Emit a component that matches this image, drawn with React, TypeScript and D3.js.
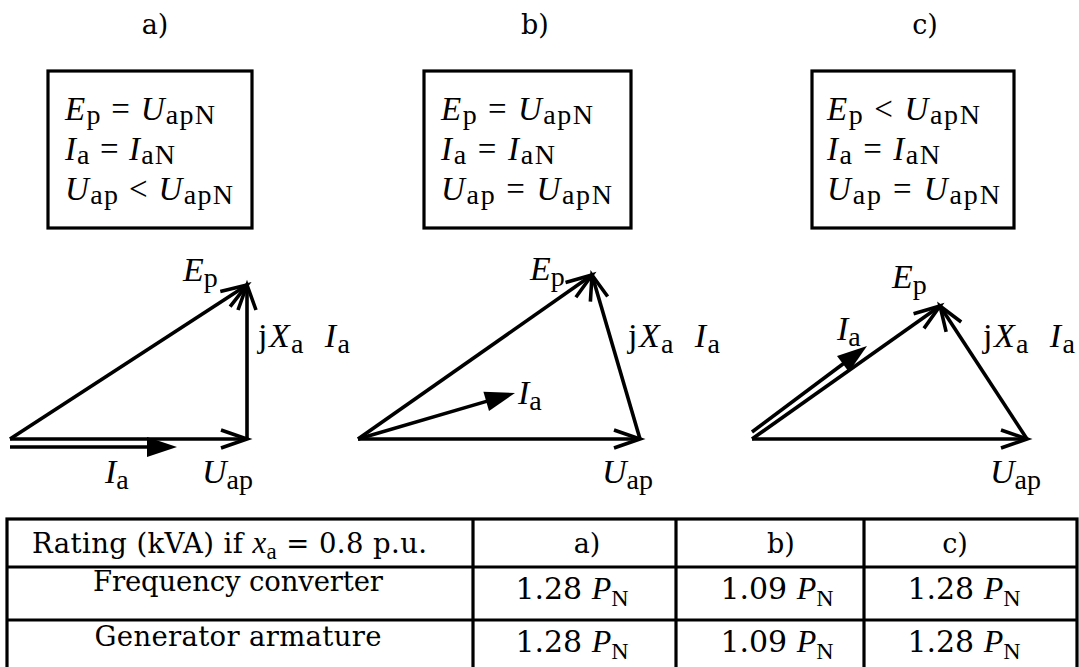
import React from 'react';
import * as d3 from 'd3';

// ---------------- data ----------------
const panelLabels = ['a)', 'b)', 'c)'];
const conditionsA = ['E_p = U_apN', 'I_a = I_aN', 'U_ap < U_apN'];
const conditionsB = ['E_p = U_apN', 'I_a = I_aN', 'U_ap = U_apN'];
const conditionsC = ['E_p < U_apN', 'I_a = I_aN', 'U_ap = U_apN'];

// phasor coordinates (diagram units, origin at tail of U_ap, y upwards)
const uApTip = [[237, 0], [282, 0], [275, 0]];
const ePTip = [[237, 154], [234, 164], [188, 133]];
const iATail = [[0, -8], [0, 0], [0, 7]];
const iATip = [[167, -8], [157, 46], [115, 93]];
const phasorLabels = ['E_p', 'jX_a  I_a', 'I_a', 'U_ap'];

const tableHeader = ['Rating (kVA) if x_a = 0.8 p.u.', 'a)', 'b)', 'c)'];
const rowLabels = ['Frequency converter', 'Generator armature'];
const ratingA = [1.28, 1.28];
const ratingB = [1.09, 1.09];
const ratingC = [1.28, 1.28];

// ---------------- layout ----------------
const W = 1079;
const H = 667;
const MATH = '"Liberation Serif", "Times New Roman", serif';
const TXT = '"DejaVu Serif", serif';
const SW = 3.6;

const headerX = [155, 535, 925];
const boxes = [
  { x0: 48, x1: 252 },
  { x0: 424, x1: 631 },
  { x0: 812, x1: 1014 },
];
const boxTop = 71;
const boxBottom = 228;
const condX = [65, 441, 827];
const condY = [120, 160, 200];
const condW = [[150, 110, 168], [152, 114, 171], [153, 113, 173]];
const origins = [[10, 439], [358, 439], [752, 439]];
// label anchor positions per panel: E_p, jXa Ia, Ia, Uap
const labelPos = [
  [[183, 281], [258, 347], [105, 483], [202, 483]],
  [[530, 280], [628, 347], [518, 404], [602, 483]],
  [[892, 288], [983, 347], [837, 340], [990, 483]],
];
const labelW = [null, 92, null, null];
const colEdges = [7, 473, 676, 864, 1077];
const rowEdges = [519, 567, 620, 674];

type Seg = { t: string; it?: boolean; sub?: boolean; font?: string; size?: number };

function parseMath(s: string): Seg[] {
  const segs: Seg[] = [];
  const tokens = s.split(' ');
  tokens.forEach((tok, k) => {
    if (k > 0) segs.push({ t: ' ' });
    if (tok === '') return;
    if (tok.includes('_')) {
      const [main, sub] = tok.split('_');
      let m = main;
      if (m.startsWith('j')) {
        segs.push({ t: 'j' });
        m = m.slice(1);
      }
      segs.push({ t: m, it: true });
      segs.push({ t: sub, sub: true });
    } else {
      segs.push({ t: tok });
    }
  });
  return segs;
}

function RichText({ x, y, segs, size, subSize, subDy, anchor = 'start', font = MATH, len }:
  { x: number; y: number; segs: Seg[]; size: number; subSize: number; subDy: number; anchor?: string; font?: string; len?: number | null }) {
  let cur = 0;
  return (
    <text x={x} y={y} fontFamily={font} fontSize={size} textAnchor={anchor} style={{ whiteSpace: 'pre' }} fill="#000"
      textLength={len || undefined} lengthAdjust={len ? 'spacing' : undefined}>
      {segs.map((s, i) => {
        const target = s.sub ? subDy : 0;
        const dy = target - cur;
        cur = target;
        return (
          <tspan key={i} dy={dy || undefined} fontSize={s.sub ? subSize : s.size}
            fontStyle={s.it ? 'italic' : undefined} fontFamily={s.font}>
            {s.t}
          </tspan>
        );
      })}
    </text>
  );
}

function Panel({ idx }: { idx: number }) {
  const [ox, oy] = origins[idx];
  const x = d3.scaleLinear().domain([0, 100]).range([ox, ox + 100]);
  const y = d3.scaleLinear().domain([0, 100]).range([oy, oy - 100]);
  const line = d3.line<number[]>().x((d) => d[0]).y((d) => d[1]);
  const P = (p: number[]) => [x(p[0]), y(p[1])];

  const openArrow = (from: number[], to: number[], L = 26, Wd = 9) => {
    const a = P(from), b = P(to);
    const dx = b[0] - a[0], dy = b[1] - a[1];
    const len = Math.hypot(dx, dy);
    const ux = dx / len, uy = dy / len;
    const px = -uy, py = ux;
    const base = [b[0] - ux * L, b[1] - uy * L];
    const head = [[base[0] + px * Wd, base[1] + py * Wd], b, [base[0] - px * Wd, base[1] - py * Wd]];
    return (
      <g>
        <path d={line([a, b]) || ''} stroke="#000" strokeWidth={SW} fill="none" />
        <path d={line(head) || ''} stroke="#000" strokeWidth={SW} fill="none" strokeLinejoin="miter" />
      </g>
    );
  };
  const filledArrow = (from: number[], to: number[], L = 30, Wd = 10) => {
    const a = P(from), b = P(to);
    const dx = b[0] - a[0], dy = b[1] - a[1];
    const len = Math.hypot(dx, dy);
    const ux = dx / len, uy = dy / len;
    const px = -uy, py = ux;
    const base = [b[0] - ux * L, b[1] - uy * L];
    const tri = [[base[0] + px * Wd, base[1] + py * Wd], b, [base[0] - px * Wd, base[1] - py * Wd]];
    return (
      <g>
        <path d={line([a, [base[0] + ux * 2, base[1] + uy * 2]]) || ''} stroke="#000" strokeWidth={SW} fill="none" />
        <path d={(line(tri) || '') + 'Z'} fill="#000" stroke="none" />
      </g>
    );
  };

  const lp = labelPos[idx];
  return (
    <g>
      {openArrow([0, 0], uApTip[idx])}
      {openArrow([0, 0], ePTip[idx])}
      {openArrow(uApTip[idx], ePTip[idx], 25, 9)}
      {filledArrow(iATail[idx], iATip[idx])}
      {phasorLabels.map((lab, k) => (
        <RichText key={k} x={lp[k][0]} y={lp[k][1]} segs={parseMath(lab)} size={34} subSize={28} subDy={6} len={labelW[k]} />
      ))}
    </g>
  );
}

function Table() {
  const ratings = [ratingA, ratingB, ratingC];
  const rowLabelY = [591, 646];
  const rowValY = [599, 652];
  const rowLabelX = [238, 238];
  const rowLabelW = [290, 287];
  const headX = [587, 781, 955];
  const valX = [572, 777, 964];
  const headSegs: Seg[] = [
    { t: 'Rating (kVA) if ' },
    { t: 'x', it: true, font: MATH, size: 31 },
    { t: 'a', sub: true, font: MATH },
    { t: ' = 0.8 p.u.' },
  ];
  return (
    <g>
      <rect x={colEdges[0]} y={rowEdges[0]} width={colEdges[4] - colEdges[0]} height={rowEdges[3] - rowEdges[0]}
        fill="none" stroke="#000" strokeWidth={3.2} />
      {rowEdges.slice(1, 3).map((r, i) => (
        <line key={'r' + i} x1={colEdges[0]} x2={colEdges[4]} y1={r} y2={r} stroke="#000" strokeWidth={3.2} />
      ))}
      {colEdges.slice(1, 4).map((c, i) => (
        <line key={'c' + i} x1={c} x2={c} y1={rowEdges[0]} y2={rowEdges[3]} stroke="#000" strokeWidth={3.2} />
      ))}
      <RichText x={229.5} y={553} segs={headSegs} size={27.5} subSize={23} subDy={6} anchor="middle" font={TXT} len={395} />
      {tableHeader.slice(1).map((h, i) => (
        <text key={h} x={headX[i]} y={553} fontFamily={TXT} fontSize={27} textAnchor="middle">{h}</text>
      ))}
      {rowLabels.map((r, i) => (
        <text key={r} x={rowLabelX[i]} y={rowLabelY[i]} fontFamily={TXT} fontSize={27.5} textAnchor="middle"
          textLength={rowLabelW[i]} lengthAdjust="spacing">{r}</text>
      ))}
      {ratings.map((col, c) =>
        col.map((v, i) => (
          <RichText key={c + '-' + i} x={valX[c]} y={rowValY[i]} anchor="middle" font={TXT}
            size={30} subSize={24} subDy={7}
            segs={[{ t: v.toFixed(2) + ' ' }, { t: 'P', it: true, font: MATH, size: 32 }, { t: 'N', sub: true, font: MATH }]} />
        ))
      )}
    </g>
  );
}

export default function App() {
  return (
    <svg width={W} height={H} viewBox={`0 0 ${W} ${H}`}
      style={{ position: 'fixed', left: 0, top: 0, background: '#fff' }}>
      <rect x={0} y={0} width={W} height={H} fill="#fff" />
      {panelLabels.map((p, i) => (
        <text key={p} x={headerX[i]} y={34} fontFamily={TXT} fontSize={27} textAnchor="middle">{p}</text>
      ))}
      {boxes.map((b, i) => (
        <rect key={i} x={b.x0} y={boxTop} width={b.x1 - b.x0} height={boxBottom - boxTop}
          fill="none" stroke="#000" strokeWidth={3.2} />
      ))}
      {[conditionsA, conditionsB, conditionsC].map((cond, i) =>
        cond.map((c, k) => (
          <RichText key={i + '-' + k} x={condX[i]} y={condY[k]} segs={parseMath(c)} size={33} subSize={28} subDy={4}
            len={condW[i][k]} />
        ))
      )}
      {[0, 1, 2].map((i) => <Panel key={i} idx={i} />)}
      <Table />
    </svg>
  );
}
